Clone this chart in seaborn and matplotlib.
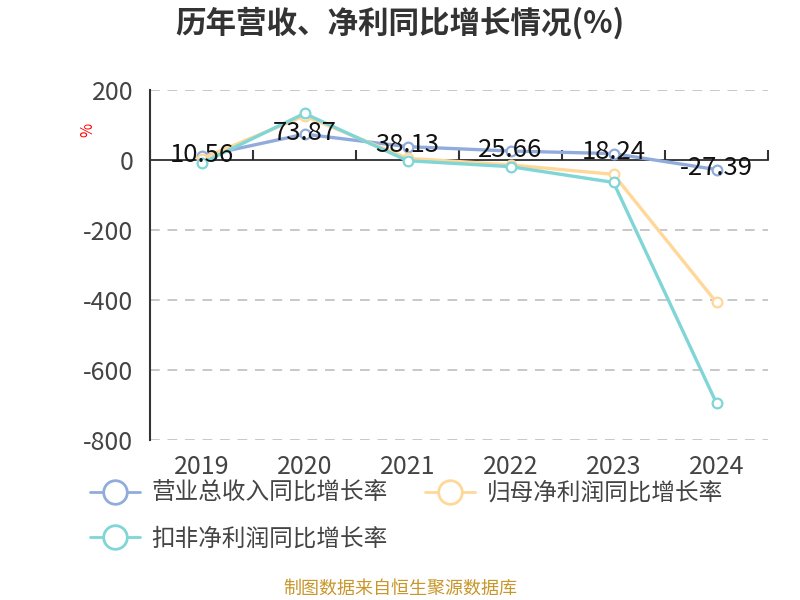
import matplotlib
matplotlib.use("Agg")
import matplotlib.pyplot as plt
from matplotlib.lines import Line2D
import seaborn as sns
import pandas as pd
import numpy as np

years = ["2019", "2020", "2021", "2022", "2023", "2024"]
revenue_growth = [10.56, 73.87, 38.13, 25.66, 18.24, -27.39]
net_profit_growth = [4, 126, 5, -14, -41, -407]
deducted_profit_growth = [-9.5, 133, -2, -19, -64, -695]
series_names = ["营业总收入同比增长率", "归母净利润同比增长率", "扣非净利润同比增长率"]
colors = ["#91acdc", "#ffd899", "#80d5d6"]
yticks = [200, 0, -200, -400, -600, -800]

sns.set_theme(style="white")
plt.rcParams['font.family'] = ['Noto Sans CJK SC', 'DejaVu Sans']
plt.rcParams['axes.unicode_minus'] = False

fig = plt.figure(figsize=(8, 6), dpi=100)
ax = fig.add_axes([150/800, 1-440/600, 618/800, 350/600])

pos = np.arange(len(years))
df = pd.DataFrame({
    "pos": np.tile(pos, 3),
    "value": revenue_growth + net_profit_growth + deducted_profit_growth,
    "series": np.repeat(series_names, len(years)),
})

for name, col in zip(series_names, colors):
    sub = df[df["series"] == name]
    sns.lineplot(data=sub, x="pos", y="value", ax=ax, color=col, linewidth=2.4,
                 marker="o", markersize=7, markerfacecolor="white",
                 markeredgecolor=col, markeredgewidth=1.6, legend=False, zorder=3)

for p, v in zip(pos, revenue_growth):
    ax.annotate(f"{v:.2f}", (p, v), xytext=(0, 1), textcoords="offset points",
                ha="center", va="center", fontsize=18.5, color="#111111", zorder=5)

ax.set_xlim(-0.5, len(years) - 0.5)
ax.set_ylim(-800, 200)
ax.set_yticks(yticks)
ax.set_yticklabels([str(t) for t in yticks], fontsize=18, color="#444444")
ax.set_xticks(pos)
ax.set_xticklabels(years, fontsize=18, color="#444444")
ax.tick_params(axis="x", length=0, pad=10)
ax.tick_params(axis="y", length=7, width=1.2, color="#aaaaaa", pad=5)
ax.yaxis.get_major_ticks()[1].tick1line.set_color("#333333")

for t in [200, -200, -400, -600, -800]:
    ax.axhline(t, color="#c8c8c8", linewidth=1.4, linestyle=(0, (5, 4)), zorder=1)

for s in ["top", "right", "bottom"]:
    ax.spines[s].set_visible(False)
ax.spines["left"].set_color("#333333")
ax.spines["left"].set_linewidth(1.5)

sec = ax.secondary_xaxis(0.8)
sec.set_xticks(np.arange(len(years) + 1) - 0.5)
sec.set_xticklabels([""] * (len(years) + 1))
sec.tick_params(axis="x", direction="out", length=7, width=1.5, color="#333333")
sec.spines["bottom"].set_color("#333333")
sec.spines["bottom"].set_linewidth(1.5)

ax.set_xlabel("")
ax.set_ylabel("%", color="red", fontsize=11, rotation=90)
ax.yaxis.set_label_coords(-0.086, 0.886)

fig.text(0.5, 1-23/600, "历年营收、净利同比增长情况(%)", ha="center", va="center",
         fontsize=22, fontweight="bold", color="#333333")

order = [0, 2, 1]
handles = [Line2D([0], [0], color=colors[i], linewidth=2, marker="o", markersize=17,
                  markerfacecolor="white", markeredgecolor=colors[i], markeredgewidth=2)
           for i in order]
labels = [series_names[i] for i in order]
fig.legend(handles, labels, loc="upper left", bbox_to_anchor=(90/800, 1-482/600),
           ncol=2, frameon=False, fontsize=17, handlelength=2.1, handletextpad=0.5,
           columnspacing=1.6, labelspacing=0.95, borderaxespad=0, borderpad=0,
           labelcolor="#444444")

fig.text(0.5, 1-589/600, "制图数据来自恒生聚源数据库", ha="center", va="center",
         fontsize=13, color="#c8962a")

fig.savefig("out.png", dpi=100)
